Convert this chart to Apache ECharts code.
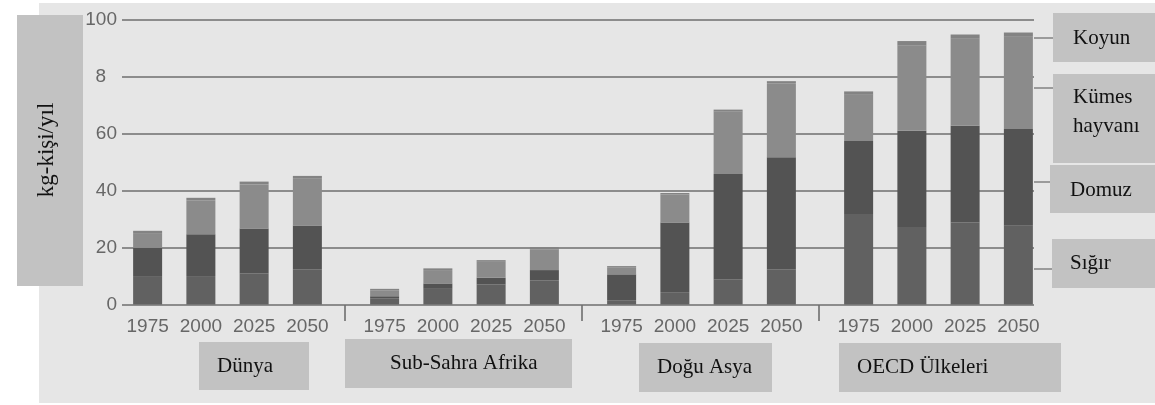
<!DOCTYPE html>
<html>
<head>
<meta charset="utf-8">
<script src="https://cdn.jsdelivr.net/npm/echarts@6/dist/echarts.min.js"></script>
<style>
html,body{margin:0;padding:0;background:#ffffff;}
#bg{position:absolute;left:39px;top:3px;width:1116px;height:400px;background:#e6e6e6;}
#chart{position:absolute;left:0;top:0;width:1155px;height:405px;}
</style>
</head>
<body>
<div id="bg"></div>
<div id="chart"></div>
<script>
// ---- data ----
const years = ['1975', '2000', '2025', '2050'];
const regions = ['Dünya', 'Sub-Sahra Afrika', 'Doğu Asya', 'OECD Ülkeleri'];
const seriesNames = ['Sığır', 'Domuz', 'Kümes hayvanı', 'Koyun'];
const yTickLabels = ['0', '20', '40', '60', '8', '100'];
const yAxisTitle = 'kg-kişi/yıl';
// values per region in order: Dünya, Sub-Sahra Afrika, Doğu Asya, OECD (4 years each)
const sigir = [10.0, 10.0, 10.9, 12.4, 2.2, 5.5, 7.0, 8.5, 1.5, 4.1, 8.8, 12.4, 31.8, 27.2, 28.8, 27.7];
const domuz = [9.9, 14.7, 15.8, 15.4, 0.7, 1.9, 2.4, 3.6, 9.1, 24.7, 37.1, 39.4, 25.7, 33.9, 34.0, 34.0];
const kumes = [5.2, 11.8, 15.5, 16.4, 2.1, 4.7, 5.6, 7.3, 2.5, 9.9, 22.0, 26.0, 16.2, 30.0, 30.6, 32.4];
const koyun = [0.8, 1.0, 1.0, 1.0, 0.5, 0.6, 0.6, 0.7, 0.4, 0.5, 0.6, 0.7, 1.2, 1.5, 1.5, 1.5];

const seriesValues = [sigir, domuz, kumes, koyun];
const seriesColors = ['#616161', '#535353', '#8b8b8b', '#838383'];

const sans = '"Liberation Sans", Arial, sans-serif';
const serif = '"Liberation Serif", "DejaVu Serif", serif';

const chart = echarts.init(document.getElementById('chart'), null, {renderer: 'canvas'});

const plotTop = 20, plotBottom = 100.5;
const grids = [{left: 122, right: 121, top: plotTop, bottom: plotBottom}];
const xAxes = [{gridIndex: 0, type: 'category', data: [''], show: false}];
const yAxes = [{
  gridIndex: 0, type: 'value', min: 0, max: 100, interval: 20,
  axisLine: {show: false}, axisTick: {show: false},
  splitLine: {show: true, lineStyle: {color: '#6e6e6e', width: 1.6}},
  axisLabel: {
    margin: 5, fontSize: 19, color: '#676767', fontFamily: sans,
    formatter: function (v) {
      const s = yTickLabels[Math.round(v / 20)];
      if (v !== 0 && s.length === 1) return '{l|' + s + '}';
      return s;
    },
    rich: {l: {padding: [0, 11, 0, 0], fontSize: 19, color: '#676767', fontFamily: sans}}
  }
}];
const series = [];
regions.forEach(function (r, g) {
  grids.push({left: 121 + g * 237, width: 213, top: plotTop, bottom: plotBottom});
  xAxes.push({
    gridIndex: g + 1, type: 'category', data: years,
    axisLine: {show: false}, axisTick: {show: false},
    axisLabel: {interval: 0, hideOverlap: false, margin: 13, fontSize: 19, color: '#676767', fontFamily: sans}
  });
  yAxes.push({gridIndex: g + 1, type: 'value', min: 0, max: 100, show: false, splitLine: {show: false}});
  seriesNames.forEach(function (n, s) {
    series.push({
      name: n, type: 'bar', stack: 'g' + g, xAxisIndex: g + 1, yAxisIndex: g + 1,
      barWidth: 29, data: seriesValues[s].slice(g * 4, g * 4 + 4),
      itemStyle: {color: seriesColors[s]}, silent: true, animation: false
    });
  });
});

const boxColor = '#c2c2c2';
const graphics = [];
// y-axis title box
graphics.push({type: 'rect', shape: {x: 17, y: 15, width: 66, height: 271}, style: {fill: boxColor}, z: 1});
graphics.push({type: 'text', x: 47, y: 150, rotation: Math.PI / 2,
  style: {text: yAxisTitle, fill: '#111', font: '23px ' + serif, textAlign: 'center', textVerticalAlign: 'middle'}, z: 2});
// group separator ticks
[345, 582, 819].forEach(function (x) {
  graphics.push({type: 'line', shape: {x1: x, y1: 305, x2: x, y2: 321}, style: {stroke: '#6e6e6e', lineWidth: 1.6}});
});
// region label boxes
const regionBoxes = [[199, 342, 110, 48, 217], [345, 339, 227, 49, 390], [639, 343, 133, 49, 657], [839, 343, 222, 49, 857]];
regions.forEach(function (r, i) {
  const b = regionBoxes[i];
  graphics.push({type: 'rect', shape: {x: b[0], y: b[1], width: b[2], height: b[3]}, style: {fill: boxColor}, z: 1});
  graphics.push({type: 'text', x: b[4], y: b[1] + b[3] / 2,
    style: {text: r, fill: '#111', font: '21px ' + serif, textVerticalAlign: 'middle'}, z: 2});
});
// legend boxes (right side), top to bottom: Koyun, Kümes hayvanı, Domuz, Sığır
const legendBoxes = [
  {idx: 3, x: 1053, y: 13, h: 49, tx: 1073, ty: 38, ly: 38},
  {idx: 2, x: 1053, y: 74, h: 89, tx: 1073, ty: 112, ly: 88},
  {idx: 1, x: 1050, y: 165, h: 48, tx: 1070, ty: 190, ly: 182},
  {idx: 0, x: 1052, y: 239, h: 49, tx: 1070, ty: 263, ly: 269}
];
legendBoxes.forEach(function (b) {
  graphics.push({type: 'line', shape: {x1: 1034, y1: b.ly, x2: b.x, y2: b.ly}, style: {stroke: '#7a7a7a', lineWidth: 1.4}});
  graphics.push({type: 'rect', shape: {x: b.x, y: b.y, width: 1155 - b.x, height: b.h}, style: {fill: boxColor}, z: 1});
  const label = seriesNames[b.idx].replace(' ', '\n');
  graphics.push({type: 'text', x: b.tx, y: b.ty,
    style: {text: label, fill: '#111', font: '21px ' + serif, textVerticalAlign: 'middle', lineHeight: 29}, z: 2});
});

chart.setOption({
  backgroundColor: 'transparent',
  animation: false,
  grid: grids,
  xAxis: xAxes,
  yAxis: yAxes,
  series: series,
  graphic: {elements: graphics}
});
</script>
</body>
</html>
